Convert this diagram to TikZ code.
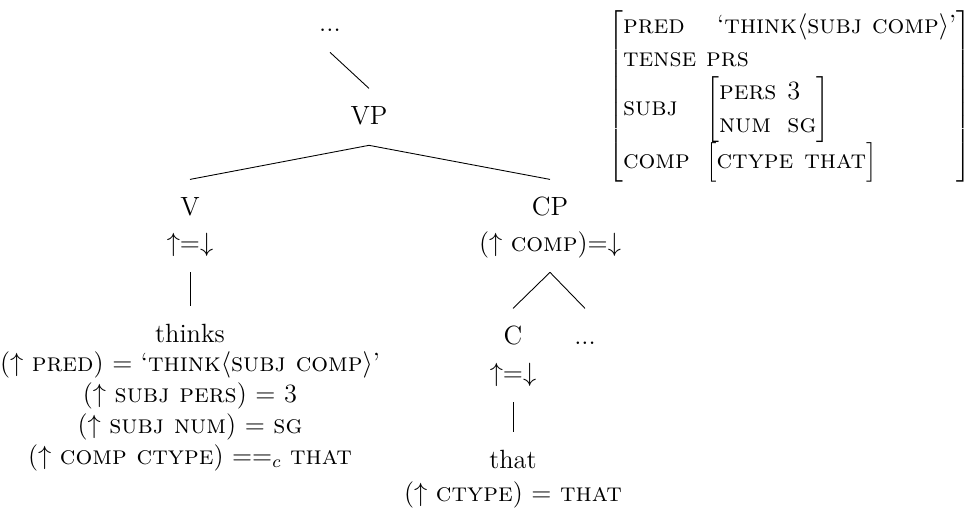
\documentclass[tikz,border=0pt]{standalone}
\usetikzlibrary{positioning}

\tikzset{
  cat/.style={anchor=base, inner sep=0pt, text height=16pt, text depth=9.5pt},
  eqn/.style={anchor=base, inner sep=0pt},
}

\begin{document}
\begin{tikzpicture}[x=0.455pt, y=-0.455pt, font=\fontsize{12}{15}\selectfont]
\useasboundingbox (0,0) rectangle (967,514);

% c-structure
\node[cat] (top) at (330,31) {...};
\node[cat] (vp) at (369,124) {VP};
\node[cat] (v) at (190,215) {V};
\node[cat] (cp) at (550,215) {CP};
\node[cat] (vf) at (190,251) {$\uparrow$=$\downarrow$};
\node[cat] (cpf) at (550,251) {($\uparrow$ \textsc{comp})=$\downarrow$};
\node[cat] (thinks) at (190,342) {thinks};
\node[cat] (c) at (513,344) {C};
\node[cat] (cdots) at (585,344) {...};
\node[cat] (cf) at (513,381) {$\uparrow$=$\downarrow$};
\node[cat] (that) at (513,468) {that};

\draw (top.south) -- (vp.north);
\draw (vp.south) -- (v.north);
\draw (vp.south) -- (cp.north);
\draw (vf.south) -- (thinks.north);
\draw (cpf.south) -- (c.north);
\draw (cpf.south) -- (cdots.north);
\draw (cf.south) -- (that.north);

% lexical equations
\node[eqn] (th1) at (190,371) {($\uparrow$ \textsc{pred}) = \textquoteleft\textsc{think}$\langle$\textsc{subj comp}$\rangle$\textquoteright};
\node[eqn] (th2) at (190,402) {($\uparrow$ \textsc{subj pers}) = 3};
\node[eqn] (th3) at (190,433) {($\uparrow$ \textsc{subj num}) = \textsc{sg}};
\node[eqn] (th4) at (190,464) {($\uparrow$ \textsc{comp ctype}) $==_c$ \textsc{that}};
\node[eqn] (that1) at (513,501) {($\uparrow$ \textsc{ctype}) = \textsc{that}};

% f-structure
\node[anchor=north west, inner sep=0pt] (fs) at (608,10) {$\left[\begin{tabular}{@{}l@{\hspace{4.5pt}}l@{}}
  \textsc{pred} & \hspace{5pt}\textquoteleft\textsc{think}$\langle$\textsc{subj comp}$\rangle$\textquoteright\\
  \textsc{tense} & \textsc{prs}\\
  \textsc{subj} & $\left[\begin{tabular}{@{}l@{\hspace{5pt}}l@{}}\textsc{pers} & 3\\ \textsc{num} & \textsc{sg}\end{tabular}\right]$\\
  \textsc{comp} & $\left[\begin{tabular}{@{}l@{\hspace{5pt}}l@{}}\textsc{ctype} & \textsc{that}\end{tabular}\right]$
\end{tabular}\right]$};
\end{tikzpicture}
\end{document}
